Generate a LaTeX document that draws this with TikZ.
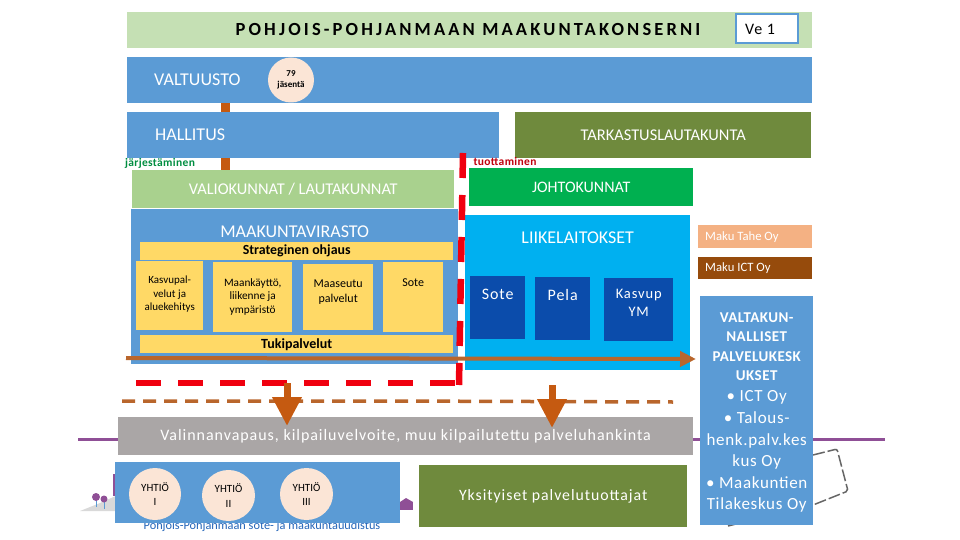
\documentclass[tikz,border=0pt]{standalone}
\usepackage{fontspec}
\setmainfont{Carlito}
\usepackage{xcolor}
\usepackage{tikz}
\usetikzlibrary{positioning,arrows.meta,calc,shapes.geometric}
\definecolor{orgblue}{HTML}{5B9BD5}
\definecolor{orgtitle}{HTML}{C5E0B4}
\definecolor{orgmoss}{HTML}{6F8A3D}
\definecolor{orgleaf}{HTML}{A9D18E}
\definecolor{orggreen}{HTML}{00B050}
\definecolor{orgsky}{HTML}{00B0F0}
\definecolor{orgnavy}{HTML}{0B4CAB}
\definecolor{orgyellow}{HTML}{FFD966}
\definecolor{orgpeach}{HTML}{FBE5D6}
\definecolor{orgsalmon}{HTML}{F4B183}
\definecolor{orgict}{HTML}{964B0C}
\definecolor{orgrust}{HTML}{C55A11}
\definecolor{orgbrown}{HTML}{B9662C}
\definecolor{orggrey}{HTML}{AAA6A6}
\definecolor{orgpurple}{HTML}{8F4F96}
\definecolor{orgred}{HTML}{F0000F}
\newcommand{\fs}[1]{\fontsize{#1}{#1}\selectfont\setlength{\baselineskip}{1.2em}}
\newfontfamily\spacedfont[LetterSpace=6]{Carlito}
\begin{document}
\begin{tikzpicture}[
  x=1pt, y=-1pt,
  font=\fs{16.4},
  box/.style={anchor=north west, inner sep=0pt, align=center, text=white},
  bluebox/.style={box, fill=orgblue},
  yelbox/.style={box, fill=orgyellow, text=black},
  ytext/.style={inner sep=0pt, align=center, font=\fs{11}},
  navybox/.style={box, fill=orgnavy},
  peach/.style={ellipse, fill=orgpeach, inner sep=0pt, align=center, text=black, font=\fs{11}\setlength{\baselineskip}{14.5pt}},
  lab/.style={inner sep=0pt, text=white},
  stub/.style={line width=9pt, orgrust},
  reddash/.style={line width=6.5pt, orgred, dash pattern=on 25pt off 17pt},
  browndash/.style={line width=3.5pt, orgbrown, dash pattern=on 13pt off 8pt},
  downarr/.style={-{Triangle[width=28pt,length=29pt]}, line width=7pt, orgrust}
]
\useasboundingbox (0,0) rectangle (960,540);
% ----- things behind the boxes -----
\coordinate (purpleL) at (78,439);
\coordinate (purpleR) at (885,439);
\draw[line width=3pt, orgpurple] (purpleL) -- (purpleR);
\draw[line width=1.5pt, black!60, dash pattern=on 12pt off 3pt, rounded corners=2pt]
  (813,455) -- (837,449) -- (848,491) -- (813,505) -- (728,526);
\fill[black!15] (80,511) -- (100,503) -- (118,495) -- (118,511) -- cycle;
\fill[orgpurple] (113,474) rectangle (116,496);
\foreach \tx/\ty/\tr in {96/497/4, 104/499/3.5}{
  \draw[orgblue, line width=1pt] (\tx,\ty) -- (\tx,\ty+10);
  \fill[orgpurple] (\tx,\ty) circle (\tr);}
\fill[orgpurple] (400,502) rectangle (413,510);
\fill[orgpurple] (400,502) -- (406,498) -- (413,502) -- cycle;
\node[inner sep=0pt, text=orgnavy!70!orgblue, font=\fs{12.3}] (logotext) at (262,526.5)
  {Pohjois-Pohjanmaan sote- ja maakuntauudistus};
% ----- top rows -----
\node[box, fill=orgtitle, minimum width=685pt, minimum height=36pt] (title) at (127,12) {};
\node[inner sep=0pt, font=\fs{18.5}\bfseries] (titletext) at (468,30)
  {\addfontfeature{LetterSpace=17}POHJOIS-POHJANMAAN MAAKUNTAKONSERNI};
\node[box, fill=white, draw=orgblue, line width=2pt, text=black, minimum width=62pt, minimum height=29pt, anchor=center, font=\spacedfont\fs{16}] (versio) at (767,29) {Ve 1\hspace{14pt}};
\node[bluebox, minimum width=685pt, minimum height=46pt] (valtuusto) at (127,57) {};
\node[lab, right=27pt of valtuusto.west, font=\fs{18}] (valtuustotext) {VALTUUSTO};
\node[peach, minimum width=46pt, minimum height=45pt, font=\bfseries\fs{9}] (jasenta) at (291,80) {79\\jäsentä};
\node[bluebox, minimum width=372pt, minimum height=46pt] (hallitus) at (127,112) {};
\node[lab, right=28pt of hallitus.west, font=\fs{18}] (hallitustext) {HALLITUS};
\node[box, fill=orgmoss, minimum width=296pt, minimum height=46pt] (tarkastus) at (515,112) {TARKASTUSLAUTAKUNTA};
% ----- left side, municipal office -----
\node[box, fill=orgleaf, minimum width=322pt, minimum height=38pt] (valiokunnat) at (132,170) {VALIOKUNNAT / LAUTAKUNNAT};
\node[bluebox, minimum width=327pt, minimum height=155pt] (virasto) at (131,209) {};
\node[lab, below=16.4pt of virasto.north, font=\fs{18}] (virastotext) {MAAKUNTAVIRASTO};
\node[yelbox, minimum width=313pt, minimum height=18pt, font=\bfseries\fs{13.9}] (strateginen) at (140,242) {Strateginen ohjaus};
\node[yelbox, minimum width=67pt, minimum height=69pt] (kasvu) at (136,261) {};
\node[ytext, below=15pt of kasvu.north] (kasvutext) {Kasvupal-\\velut ja\\aluekehitys};
\node[yelbox, minimum width=79pt, minimum height=70pt] (maankaytto) at (213,262) {};
\node[ytext, below=16pt of maankaytto.north, font=\fs{11.3}] (maantext) {Maankäyttö,\\liikenne ja\\ympäristö};
\node[yelbox, minimum width=70pt, minimum height=66pt] (maaseutu) at (303,264) {};
\node[ytext, below=16pt of maaseutu.north, font=\fs{12}] (maastext) {Maaseutu\\palvelut};
\node[yelbox, minimum width=60pt, minimum height=70pt] (sote) at (383,262) {};
\node[ytext, below=17pt of sote.north, font=\fs{12}] (sotetext) {Sote};
\node[yelbox, minimum width=313pt, minimum height=18pt, font=\bfseries\fs{14}] (tuki) at (140,335) {Tukipalvelut};
\coordinate (spine) at (225.5,0);
\draw[stub] (valtuusto.south -| spine) -- (hallitus.north -| spine);
\draw[stub] (hallitus.south -| spine) -- (valiokunnat.north -| spine);
\node[inner sep=0pt, text=orggreen!80!black, font=\bfseries\fs{11.5}\addfontfeature{LetterSpace=3}] (jarj) at (160,163) {järjestäminen};
\node[inner sep=0pt, text=orgred!80!black, font=\bfseries\fs{11.5}\addfontfeature{LetterSpace=3}] (tuot) at (505,162) {tuottaminen};
% ----- right side, enterprises -----
\node[box, fill=orggreen, minimum width=224pt, minimum height=38pt, font=\fs{16}] (johto) at (469,168) {JOHTOKUNNAT};
\node[box, fill=orgsky, minimum width=225pt, minimum height=155pt] (liike) at (465,215) {};
\node[lab, below=16.4pt of liike.north, font=\fs{18}] (liiketext) {LIIKELAITOKSET};
\node[navybox, minimum width=55pt, minimum height=63pt] (lsote) at (470,276) {};
\node[lab, below=13pt of lsote.north, font=\spacedfont\fs{16}] (lsotetext) {Sote};
\node[navybox, minimum width=55pt, minimum height=63pt] (pela) at (535,277) {};
\node[lab, below=12pt of pela.north, font=\spacedfont\fs{16}] (pelatext) {Pela};
\node[navybox, minimum width=69pt, minimum height=63pt] (kasvup) at (604,278) {};
\node[lab, below=11pt of kasvup.north, align=center, font=\spacedfont\fs{14.5}\setlength{\baselineskip}{18pt}] (kasvuptext) {Kasvup\\YM};
\node[box, fill=orgsalmon, minimum width=114pt, minimum height=23pt] (tahe) at (698,225) {};
\node[lab, right=7pt of tahe.west, font=\fs{12.7}] (tahetext) {Maku Tahe Oy};
\node[box, fill=orgict, minimum width=114pt, minimum height=22pt] (ict) at (698,257) {};
\node[lab, right=7pt of ict.west, font=\fs{12.7}] (icttext) {Maku ICT Oy};
\node[bluebox, minimum width=113pt, minimum height=229pt] (valtakunta) at (700,296)
  {\begin{minipage}{111pt}\centering\vspace*{4pt}
   \bfseries\fontsize{15}{19.3}\selectfont\addfontfeature{LetterSpace=3}VALTAKUN-\\NALLISET\\PALVELUKESK\\UKSET\par
   \mdseries\fontsize{17}{21.6}\selectfont\addfontfeature{LetterSpace=4}\textbullet{} ICT Oy\\\textbullet{} Talous-\\henk.palv.kes\\kus Oy\\\textbullet{} Maakuntien\\Tilakeskus Oy
   \end{minipage}};
% ----- bottom -----
\node[box, fill=orggrey, minimum width=575pt, minimum height=38pt, font=\spacedfont\fs{16}] (valinnan) at (118,417) {Valinnanvapaus, kilpailuvelvoite, muu kilpailutettu palveluhankinta};
\node[bluebox, minimum width=285pt, minimum height=61pt] (yhtiot) at (115,462) {};
\node[peach, minimum width=52pt, minimum height=52pt] (yhtio1) at (155,494) {YHTIÖ\\I};
\node[peach, minimum width=53pt, minimum height=51pt] (yhtio2) at (228.5,495.5) {YHTIÖ\\II};
\node[peach, minimum width=53pt, minimum height=52pt] (yhtio3) at (306.5,494) {YHTIÖ\\III};
\node[box, fill=orgmoss, minimum width=268pt, minimum height=62pt, font=\spacedfont\fs{15.8}] (yksityiset) at (419,465) {Yksityiset palvelutuottajat};
% ----- dashed lines and arrows -----
\coordinate (redtop) at (463,153);
\coordinate (redcorner) at (459,385);
\coordinate (redleft) at (136,383);
\coordinate (redturn) at (460,383);
\coordinate (branddashL) at (122,401);
\coordinate (branddashM) at (390,401);
\coordinate (branddashR) at (673,402);
\draw[browndash] (branddashL) -- (branddashM) -- (branddashR);
\draw[reddash] (redtop) -- (redcorner);
\draw[reddash] (redleft) -- (redturn);
\coordinate (arrA) at (287,383);
\coordinate (arrB) at (552,385);
\draw[downarr] (arrA) -- (287,426);
\draw[downarr] (arrB) -- (552,428);
\coordinate (tukiL) at (126,358);
\coordinate (tukiR) at (696,359);
\draw[-{Triangle[width=15pt,length=16pt]}, line width=4pt, orgbrown] (tukiL) -- (tukiR);
\end{tikzpicture}
\end{document}
